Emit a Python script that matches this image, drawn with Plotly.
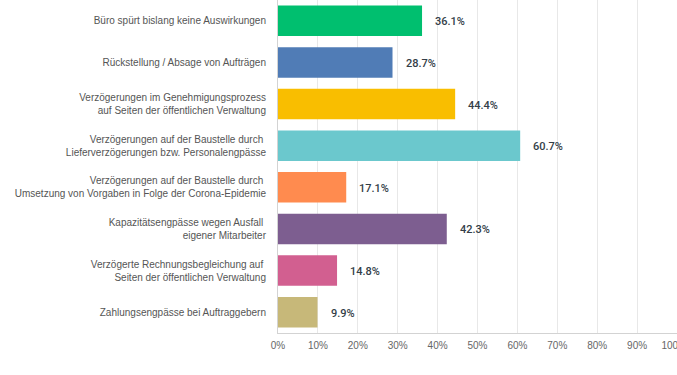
import plotly.graph_objects as go

categories = [
    "Büro spürt bislang keine Auswirkungen",
    "Rückstellung / Absage von Aufträgen",
    "Verzögerungen im Genehmigungsprozess<br>auf Seiten der öffentlichen Verwaltung",
    "Verzögerungen auf der Baustelle durch\u00a0<br>Lieferverzögerungen bzw. Personalengpässe",
    "Verzögerungen auf der Baustelle durch\u00a0<br>Umsetzung von Vorgaben in Folge der Corona-Epidemie",
    "Kapazitätsengpässe wegen Ausfall\u00a0<br>eigener Mitarbeiter",
    "Verzögerte Rechnungsbegleichung auf\u00a0<br>Seiten der öffentlichen Verwaltung",
    "Zahlungsengpässe bei Auftraggebern",
]
values = [36.1, 28.7, 44.4, 60.7, 17.1, 42.3, 14.8, 9.9]
colors = ["#00BF6F", "#507CB6", "#F9BE00", "#6BC8CD", "#FF8B4F", "#7D5E90", "#D25F90", "#C7B879"]
tick_vals = [0, 10, 20, 30, 40, 50, 60, 70, 80, 90, 100]
tick_text = ["0%", "10%", "20%", "30%", "40%", "50%", "60%", "70%", "80%", "90%", "100%\u00a0\u00a0"]

fig = go.Figure()
fig.add_trace(go.Bar(
    x=values, y=categories, orientation="h",
    marker=dict(color=colors, line=dict(width=0)),
    width=0.73, hoverinfo="skip",
))

for c, v in zip(categories, values):
    fig.add_annotation(
        x=v, y=c, text=f"{v:.1f}%", showarrow=False,
        xanchor="left", yanchor="middle", xshift=11, yshift=-1,
        font=dict(family="Roboto, Liberation Sans, Arial, sans-serif", size=11, color="#333e48", weight=500),
    )

fig.update_layout(
    width=677, height=375, autosize=False,
    margin=dict(l=278, r=0, t=0, b=42, autoexpand=False),
    paper_bgcolor="white", plot_bgcolor="white",
    showlegend=False,
    xaxis=dict(
        range=[0, 100], tickvals=tick_vals, ticktext=tick_text,
        showgrid=True, gridcolor="#e8e8e8", gridwidth=1,
        showline=True, linecolor="#d3d3d3", linewidth=1,
        zeroline=False, ticks="", ticklabeloverflow="allow", automargin=False,
        ticklabelstandoff=3,
        tickfont=dict(family="Liberation Sans, Arial, sans-serif", size=10, color="#666666"),
        fixedrange=True,
    ),
    yaxis=dict(
        autorange="reversed", showgrid=False,
        showline=True, linecolor="#d3d3d3", linewidth=1,
        ticks="", ticklabelstandoff=9, automargin=False,
        tickfont=dict(family="Liberation Sans, Arial, sans-serif", size=10, color="#555555"),
        fixedrange=True,
    ),
)

fig.write_html(
    "out.html",
    config={"displayModeBar": False},
    post_script="document.body.style.margin='0';document.body.style.overflow='hidden';",
)
